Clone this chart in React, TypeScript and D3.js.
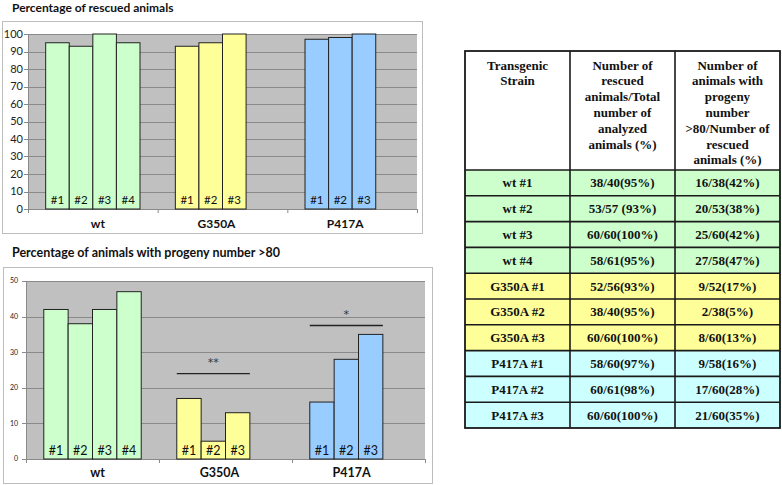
import React from "react";
import * as d3 from "d3";

const categories = ["wt", "G350A", "P417A"];
const strainLabels = [["#1", "#2", "#3", "#4"], ["#1", "#2", "#3"], ["#1", "#2", "#3"]];
const rescuedPct = [[95, 93, 100, 95], [93, 95, 100], [97, 98, 100]];
const progenyPct = [[42, 38, 42, 47], [17, 5, 13], [16, 28, 35]];
const sigCategories = ["G350A", "P417A"];
const sigLabels = ["**", "*"];
const sigLevels = [24, 37.5];
const topTicks = [0, 10, 20, 30, 40, 50, 60, 70, 80, 90, 100];
const bottomTicks = [0, 10, 20, 30, 40, 50];

const tableHeaders = [
  ["Transgenic", "Strain"],
  ["Number of", "rescued", "animals/Total", "number of", "analyzed", "animals (%)"],
  ["Number of", "animals with", "progeny", "number", ">80/Number of", "rescued", "animals (%)"],
];
const tableStrains = ["wt #1", "wt #2", "wt #3", "wt #4", "G350A #1", "G350A #2", "G350A #3", "P417A #1", "P417A #2", "P417A #3"];
const tableRescued = ["38/40(95%)", "53/57 (93%)", "60/60(100%)", "58/61(95%)", "52/56(93%)", "38/40(95%)", "60/60(100%)", "58/60(97%)", "60/61(98%)", "60/60(100%)"];
const tableProgeny = ["16/38(42%)", "20/53(38%)", "25/60(42%)", "27/58(47%)", "9/52(17%)", "2/38(5%)", "8/60(13%)", "9/58(16%)", "17/60(28%)", "21/60(35%)"];
const tableGroup = ["wt", "wt", "wt", "wt", "G350A", "G350A", "G350A", "P417A", "P417A", "P417A"];

const barFill: Record<string, string> = { wt: "#ccffcc", G350A: "#ffff99", P417A: "#99ccff" };
const rowFill: Record<string, string> = { wt: "#ccffcc", G350A: "#ffff99", P417A: "#ccffff" };

const SANS = "Lato, 'Open Sans', sans-serif";
const SERIF = "'Liberation Serif', 'Times New Roman', serif";
const CAT_LABEL_DX = [5, -6, -7];

type ChartCfg = {
  title: string;
  titleY: number;
  titleFont: number;
  frame: { x: number; y: number; w: number; h: number };
  left: number;
  right: number;
  bottom: number;
  top: number;
  max: number;
  ticks: number[];
  tickFont: number;
  tickX: number;
  values: number[][];
  barFont: number;
  barLabelDy: number;
  catFont: number;
  catY: number;
  pad: number;
  sig?: boolean;
};

function BarChart({ cfg }: { cfg: ChartCfg }) {
  const x0 = d3.scaleBand<string>().domain(categories).range([cfg.left, cfg.right]).padding(0);
  const x1 = d3.scaleBand<number>().domain([0, 1, 2, 3]).range([0, x0.bandwidth()]).paddingInner(0).paddingOuter(cfg.pad);
  const y = d3.scaleLinear().domain([0, cfg.max]).range([cfg.bottom, cfg.top]);
  const boundaries = [...categories.map((c) => x0(c)!), cfg.right];
  return (
    <g>
      <text x={12} y={cfg.titleY} fontFamily={SANS} fontWeight="bold" fontSize={cfg.titleFont} fill="#111">
        {cfg.title}
      </text>
      <rect x={cfg.frame.x + 0.5} y={cfg.frame.y + 0.5} width={cfg.frame.w} height={cfg.frame.h} fill="#fff" stroke="#bdbdbd" />
      <rect x={cfg.left} y={cfg.top} width={cfg.right - cfg.left} height={cfg.bottom - cfg.top} fill="#c0c0c0" />
      {cfg.ticks.map((t) => (
        <g key={t}>
          <line x1={cfg.left - 4} x2={cfg.right} y1={Math.round(y(t)) + 0.5} y2={Math.round(y(t)) + 0.5} stroke="#8a8a8a" strokeWidth={1} />
          <text x={cfg.tickX} y={y(t)} dy="0.35em" textAnchor="end" fontFamily={SANS} fontSize={cfg.tickFont} fill="#222">
            {t}
          </text>
        </g>
      ))}
      <line x1={cfg.left + 0.5} x2={cfg.left + 0.5} y1={cfg.top} y2={cfg.bottom} stroke="#8a8a8a" />
      {boundaries.map((b, i) => (
        <line key={i} x1={b + 0.5} x2={b + 0.5} y1={cfg.bottom} y2={cfg.bottom + 4} stroke="#8a8a8a" />
      ))}
      {categories.map((c, ci) =>
        cfg.values[ci].map((v, si) => {
          const bx = x0(c)! + x1(si)!;
          const bw = x1.bandwidth();
          return (
            <g key={c + si}>
              <rect x={bx} y={y(v)} width={bw} height={y(0) - y(v)} fill={barFill[c]} stroke="#222" strokeWidth={1} />
              <text x={bx + bw / 2} y={cfg.bottom - cfg.barLabelDy} textAnchor="middle" fontFamily={SANS} fontSize={cfg.barFont} fill="#111">
                {strainLabels[ci][si]}
              </text>
            </g>
          );
        })
      )}
      {categories.map((c, ci) => (
        <text key={c} x={x0(c)! + x0.bandwidth() / 2} dx={CAT_LABEL_DX[ci]} y={cfg.catY} textAnchor="middle" fontFamily={SANS} fontWeight="bold" fontSize={cfg.catFont} fill="#111">
          {c}
        </text>
      ))}
      {cfg.sig &&
        sigCategories.map((c, i) => {
          const ci = categories.indexOf(c);
          const n = cfg.values[ci].length;
          const xs = x0(c)! + x1(0)!;
          const xe = x0(c)! + x1(n - 1)! + x1.bandwidth();
          return (
            <g key={c}>
              <line x1={xs} x2={xe} y1={y(sigLevels[i])} y2={y(sigLevels[i])} stroke="#222" strokeWidth={1.3} />
              <text x={(xs + xe) / 2} y={y(sigLevels[i]) - 8} textAnchor="middle" fontFamily="'DejaVu Sans', sans-serif" fontSize={11} fill="#333">
                {sigLabels[i]}
              </text>
            </g>
          );
        })}
    </g>
  );
}

function Table() {
  const colX = d3.scaleBand<number>().domain([0, 1, 2]).range([465, 780]);
  const top = 51;
  const headBottom = 170;
  const rowY = d3.scaleBand<number>().domain(d3.range(tableStrains.length)).range([headBottom, 428]);
  const cols = [tableStrains, tableRescued, tableProgeny];
  return (
    <g fontFamily={SERIF} fontWeight="bold" fontSize={13} fill="#111">
      <rect x={465} y={top} width={315} height={428 - top} fill="#fff" />
      {tableStrains.map((s, i) => (
        <rect key={s} x={465} y={rowY(i)!} width={315} height={rowY.bandwidth()} fill={rowFill[tableGroup[i]]} />
      ))}
      {tableHeaders.map((lines, ci) =>
        lines.map((l, li) => (
          <text key={ci + "-" + li} x={colX(ci)! + colX.bandwidth() / 2} y={top + 18.5 + li * 15.8} textAnchor="middle">
            {l}
          </text>
        ))
      )}
      {cols.map((col, ci) =>
        col.map((t, ri) => (
          <text key={ci + "r" + ri} x={colX(ci)! + colX.bandwidth() / 2} y={rowY(ri)! + rowY.bandwidth() / 2 + 4.5} textAnchor="middle">
            {t}
          </text>
        ))
      )}
      {tableStrains.map((s, i) => (
        <line key={"h" + i} x1={465} x2={780} y1={rowY(i)!} y2={rowY(i)!} stroke="#1a1a1a" strokeWidth={1.6} />
      ))}
      {[1, 2].map((c) => (
        <line key={"v" + c} x1={colX(c)!} x2={colX(c)!} y1={top} y2={428} stroke="#1a1a1a" strokeWidth={1.6} />
      ))}
      <rect x={465} y={top} width={315} height={428 - top} fill="none" stroke="#1a1a1a" strokeWidth={1.8} />
    </g>
  );
}

export default function App() {
  const topCfg: ChartCfg = {
    title: "Percentage  of rescued animals",
    titleY: 12,
    titleFont: 12,
    frame: { x: 2, y: 21, w: 420, h: 212 },
    left: 28,
    right: 417,
    bottom: 209,
    top: 34,
    max: 100,
    ticks: topTicks,
    tickFont: 11,
    tickX: 23,
    values: rescuedPct,
    barFont: 11.5,
    barLabelDy: 5,
    catFont: 12,
    catY: 228,
    pad: 0.75,
  };
  const bottomCfg: ChartCfg = {
    title: "Percentage  of animals with progeny number >80",
    titleY: 257,
    titleFont: 12.5,
    frame: { x: 3, y: 267, w: 429, h: 216 },
    left: 26,
    right: 425,
    bottom: 459,
    top: 281,
    max: 50,
    ticks: bottomTicks,
    tickFont: 7,
    tickX: 18,
    values: progenyPct,
    barFont: 12.5,
    barLabelDy: 4,
    catFont: 12.5,
    catY: 477,
    pad: 0.73,
    sig: true,
  };
  return (
    <svg width={782} height={485} style={{ position: "absolute", left: 0, top: 0, background: "#fff" }}>
      <rect width={782} height={485} fill="#fff" />
      <BarChart cfg={topCfg} />
      <BarChart cfg={bottomCfg} />
      <Table />
    </svg>
  );
}
